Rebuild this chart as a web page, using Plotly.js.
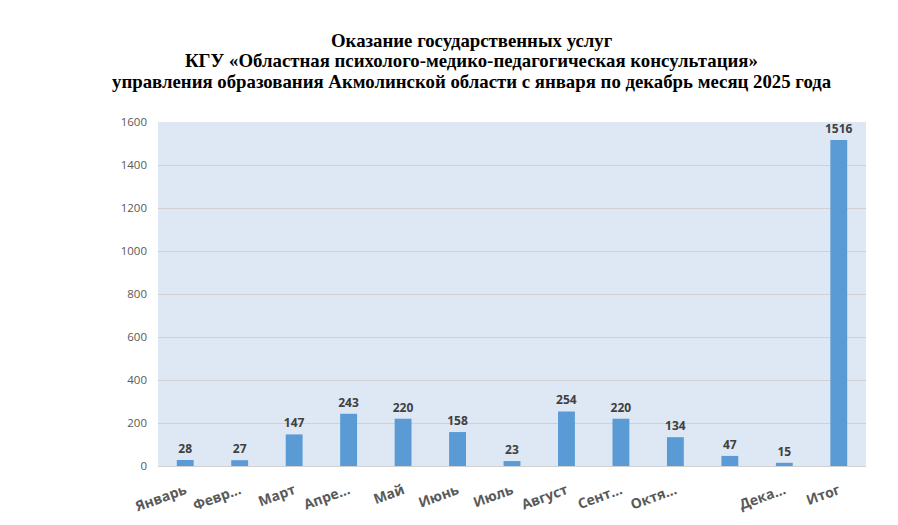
<!DOCTYPE html>
<html><head><meta charset="utf-8">
<script src="https://cdn.plot.ly/plotly-3.0.1.min.js"></script>
<style>html,body{margin:0;padding:0;background:#fff}#chart{width:898px;height:525px}</style>
</head><body><div id="chart"></div>
<script>
var categories = ["Январь","Февраль","Март","Апрель","Май","Июнь","Июль","Август","Сентябрь","Октябрь","Ноябрь","Декабрь","Итог"];
var tickLabels = ["Январь","Февр…","Март","Апре…","Май","Июнь","Июль","Август","Сент…","Октя…","","Дека…","Итог"];
var values = [28,27,147,243,220,158,23,254,220,134,47,15,1516];
var titleLines = [
  "Оказание государственных услуг",
  "КГУ «Областная психолого-медико-педагогическая консультация»",
  "управления образования Акмолинской области с января по декабрь месяц 2025 года"
];

var trace = {
  type: "bar",
  x: categories,
  y: values,
  width: 0.31,
  marker: {color: "#5b9bd5"},
  text: values.map(String),
  textposition: "outside",
  constraintext: "none",
  cliponaxis: false,
  textfont: {family: "Open Sans, sans-serif", size: 12, color: "#404040", weight: "bold"},
  hoverinfo: "x+y"
};

var titleY = [1.238, 1.179, 1.119];
var annotations = titleLines.map(function (t, i) {
  return {
    text: t, xref: "paper", yref: "paper", x: 0.443, y: titleY[i],
    xanchor: "center", yanchor: "middle", showarrow: false,
    font: {family: "Liberation Serif, Times New Roman, serif", size: 18.8, color: "#000", weight: "bold"}
  };
});

var layout = {
  width: 898, height: 525,
  margin: {l: 158, r: 32, t: 122, b: 59},
  paper_bgcolor: "#ffffff",
  plot_bgcolor: "#dee8f5",
  showlegend: false,
  annotations: annotations,
  xaxis: {
    type: "category",
    tickmode: "array",
    tickvals: categories,
    ticktext: tickLabels,
    tickangle: -20,
    ticklabelstandoff: 10,
    tickfont: {family: "Open Sans, sans-serif", size: 14, color: "#595959", weight: "bold"},
    showgrid: false,
    showline: true,
    linecolor: "#d0d0d0",
    linewidth: 1,
    ticks: "",
    zeroline: false,
    fixedrange: true
  },
  yaxis: {
    range: [0, 1600],
    tickmode: "array",
    tickvals: [0,200,400,600,800,1000,1200,1400,1600],
    tickfont: {family: "Open Sans, sans-serif", size: 11.5, color: "#595959"},
    ticklabelstandoff: 10,
    showgrid: true,
    gridcolor: "#d0d0d0",
    gridwidth: 1,
    zeroline: false,
    showline: false,
    ticks: "",
    fixedrange: true
  }
};

Plotly.newPlot("chart", [trace], layout, {displayModeBar: false, staticPlot: true});
</script></body></html>
